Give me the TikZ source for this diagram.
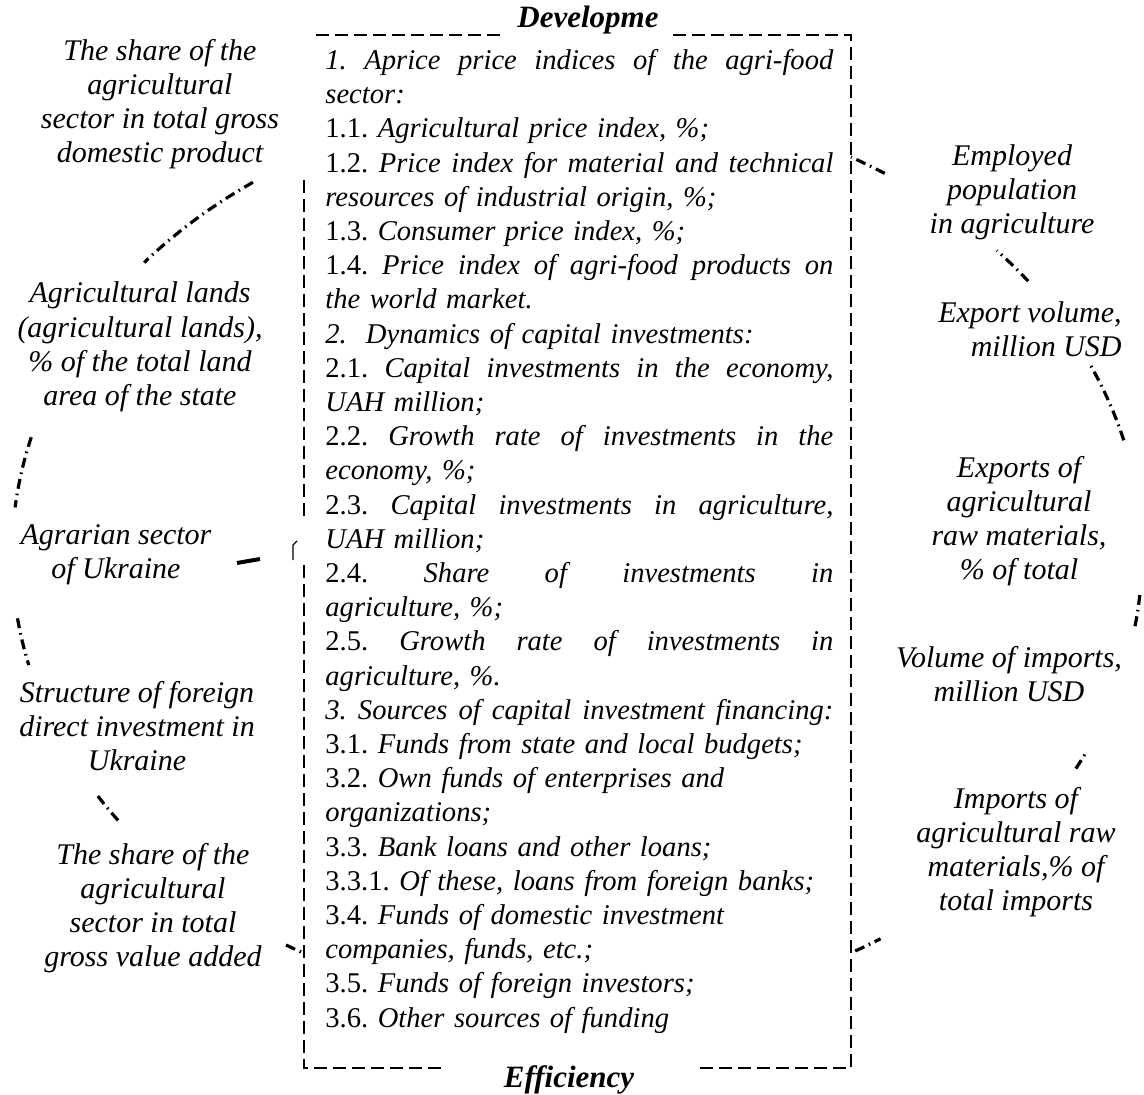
\documentclass[tikz,border=0pt]{standalone}
\usepackage{fontspec}
\setmainfont{Liberation Serif}
\usetikzlibrary{positioning}
\frenchspacing

\tikzset{
  lbl/.style={align=center, font=\fontsize{15}{17.1}\selectfont\itshape, inner sep=0pt},
  head/.style={font=\fontsize{15.5}{18}\selectfont\bfseries\itshape, inner sep=0pt},
  ring/.style={line width=1.6pt, dash pattern=on 5pt off 2.5pt on 0.8pt off 2.5pt},
  frame/.style={line width=1.3pt, dash pattern=on 6.5pt off 3pt},
}
\newcommand{\listw}{254pt}
\newcommand{\jl}[1]{\leavevmode\hbox to \listw{\spaceskip=0pt\xspaceskip=0pt #1}\\}

\begin{document}
\begin{tikzpicture}[x=0.5pt,y=-0.5pt]
	\useasboundingbox (0,0) rectangle (1144,1095);
	% broken ring round the block
	\foreach \a/\b in {125/140, 165/174, 188/194, 212/216, 239/241, 57/61,
	                   37/42, 14.6/25, -9/-4.5, -28/-25.5, -60.5/-57.5}
		\draw[ring, domain=\a:\b, samples=15, variable=\t]
			plot ({577+565*cos(\t)}, {555-455*sin(\t)});
	% dashed frame
	\draw[frame] (304,180) -- (304,522);
	\draw[frame] (304,565) -- (304,1068) -- (444,1068);
	\draw[frame] (700,1068) -- (851,1068) -- (851,35) -- (672,35);
	\draw[frame] (500,35) -- (310,35);
	\draw[line width=0.6pt] (293,560) -- (293,545) -- (297,541);
	\node[head] (dev) at (588,20) {Developme};
	\node[head] (eff) at (569,1080) {Efficiency};
	\node[anchor=north west, text width=\listw, inner sep=0pt, align=left,
	      font=\fontsize{14.3}{17.1}\selectfont] (list) at (325,49) {%
		\jl{\textit{1. Aprice price indices of the agri-food}}
		\textit{sector:}\\
		1.1. \textit{Agricultural price index, \%;}\\
		\jl{1.2. \textit{Price index for material and technical}}
		\textit{resources of industrial origin, \%;}\\
		1.3. \textit{Consumer price index, \%;}\\
		\jl{1.4. \textit{Price index of agri-food products on}}
		\textit{the world market.}\\
		\textit{2.\ \ Dynamics of capital investments:}\\
		\jl{2.1. \textit{Capital investments in the economy,}}
		\textit{UAH million;}\\
		\jl{2.2. \textit{Growth rate of investments in the}}
		\textit{economy, \%;}\\
		\jl{2.3. \textit{Capital investments in agriculture,}}
		\textit{UAH million;}\\
		\jl{2.4. \textit{Share of investments in}}
		\textit{agriculture, \%;}\\
		\jl{2.5. \textit{Growth rate of investments in}}
		\textit{agriculture, \%.}\\
		\jl{\textit{3.\ Sources of capital investment financing:}}
		3.1. \textit{Funds from state and local budgets;}\\
		3.2. \textit{Own funds of enterprises and}\\
		\textit{organizations;}\\
		3.3. \textit{Bank loans and other loans;}\\
		3.3.1. \textit{Of these, loans from foreign banks;}\\
		3.4. \textit{Funds of domestic investment}\\
		\textit{companies, funds, etc.;}\\
		3.5. \textit{Funds of foreign investors;}\\
		3.6. \textit{Other sources of funding}};
	% left column
	\node[lbl] (gdp) at (160,104) {The share of the\\agricultural\\sector in total gross\\domestic product};
	\node[lbl] (lands) at (140,347) {Agricultural lands\\(agricultural lands),\\\% of the total land\\area of the state};
	\node[lbl] (agr) at (116,555) {Agrarian sector\\of Ukraine};
	\node[lbl] (fdi) at (137,726) {Structure of foreign\\direct investment in\\Ukraine};
	\node[lbl] (gva) at (153,908) {The share of the\\agricultural\\sector in total\\gross value added};
	% right column
	\node[lbl] (empl) at (1012,192) {Employed\\population\\in agriculture};
	\node[lbl, align=right, anchor=east] (expv) at (1122,329) {Export volume,\\million USD};
	\node[lbl] (expr) at (1019,521) {Exports of\\agricultural\\raw materials,\\\% of total};
	\node[lbl] (impv) at (1009,674) {Volume of imports,\\million USD};
	\node[lbl] (impr) at (1016,852) {Imports of\\agricultural raw\\materials,\% of\\total imports};
	% stub from the agrarian sector
	\coordinate (stubA) at (237,563);
	\coordinate (stubB) at (260,559);
	\draw[line width=2pt] (stubA) -- (stubB);
\end{tikzpicture}
\end{document}
